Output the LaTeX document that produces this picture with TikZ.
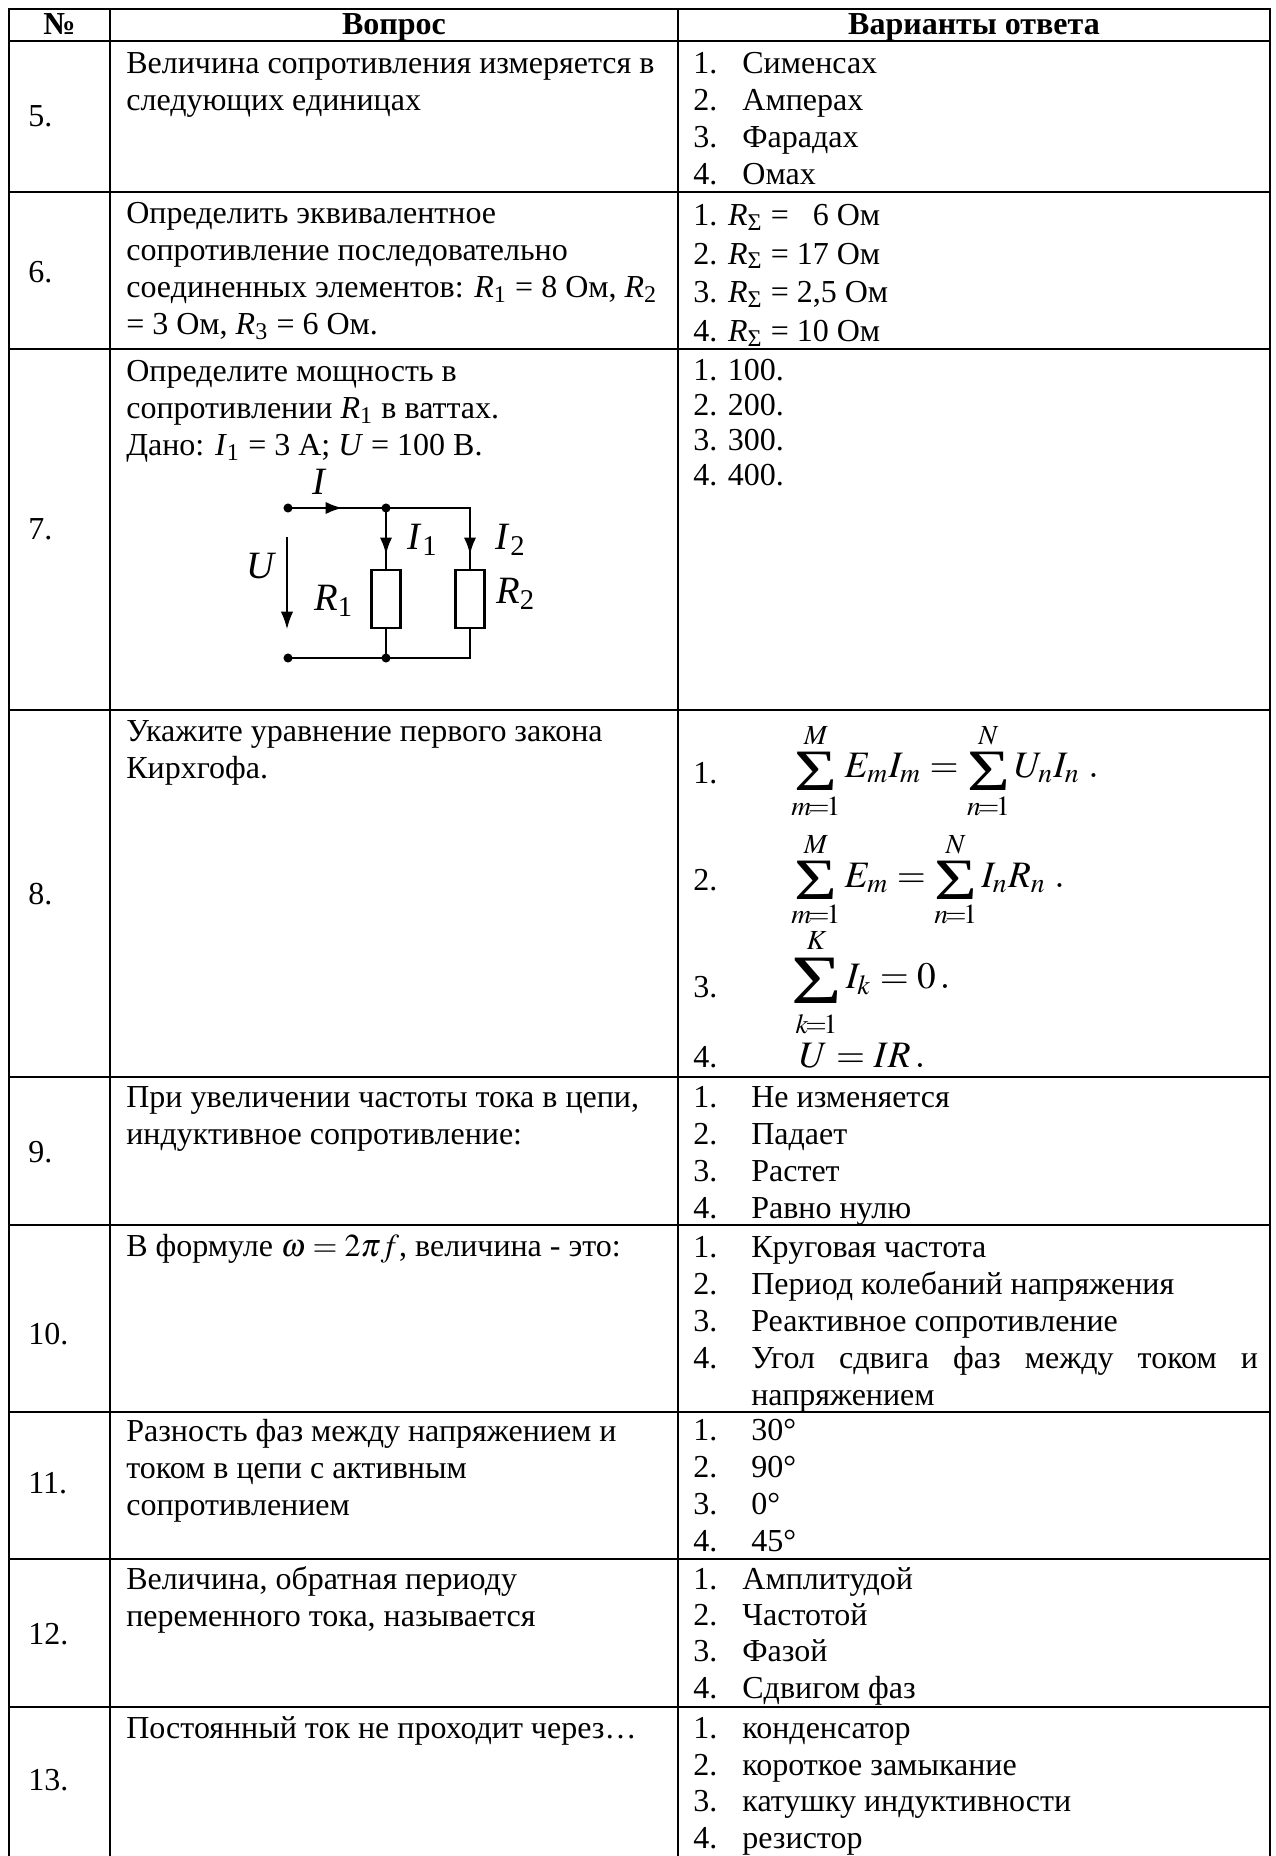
\documentclass[tikz,border=0pt]{standalone}
\usepackage{mathptmx}
\usepackage{graphicx}
\usepackage{fontspec}
\setmainfont{Liberation Serif}
\usetikzlibrary{arrows.meta}
\tikzset{>=Latex}

\newcommand{\tstrut}{\rule{0pt}{12pt}}
\newcommand{\ansbox}[3]{\makebox[#1][l]{#2}#3}
\newcommand{\Rsig}{\textit{R}\textsubscript{Σ}}
% sum sign: size, lowering, box height, box depth, lower and upper limit
\newcommand{\bigsum}[6]{\mathop{\raisebox{-#2}[#3][#4]{\fontsize{#1}{#1}\selectfont\scalebox{1.25}[1]{Σ}}}\limits_{#5}^{#6}}

\tikzset{
  cell/.style={anchor=north west, yshift=12pt, inner sep=0pt, align=left,
    font=\fontsize{12}{13.875}\selectfont},
  head/.style={anchor=base, inner sep=0pt, font=\fontsize{12}{13.875}\selectfont\bfseries},
  num/.style={anchor=base west, inner sep=0pt, font=\fontsize{12}{13.875}\selectfont},
  frm/.style={anchor=base west, inner sep=0pt, font=\fontsize{14}{18}\selectfont},
  wire/.style={line width=1.1pt},
  res/.style={draw, line width=1.1pt, minimum width=11.2pt, minimum height=21.75pt, inner sep=0pt},
  curr/.style={-{Latex[length=6.5pt,width=4.6pt]}, line width=1.1pt},
  lab/.style={inner sep=0pt, font=\fontsize{14.5}{16}\selectfont},
}

\begin{document}
\begin{tikzpicture}[x=0.375pt, y=-0.375pt, line width=1pt]
  \fill[white] (0,0) rectangle (1275,1856);
  \useasboundingbox (0,0) rectangle (1275,1856);

  % table grid
  \draw (9,1856) -- (9,9) -- (1270,9) -- (1270,1856);
  \foreach \y in {41,192,349,710,1077,1225,1412,1559,1707}
    \draw (9,\y) -- (1270,\y);
  \foreach \x in {110,678}
    \draw (\x,9) -- (\x,1856);

  % header
  \node[head] (hn) at (59.5,34) {№};
  \node[head] (hq) at (394,34) {Вопрос};
  \node[head] (ha) at (974,34) {Варианты ответа};

  % question numbers
  \foreach \n/\y in {5/126, 6/282, 7/539, 8/904, 9/1162, 10/1344, 11/1493, 12/1644, 13/1790}
    \node[num] (n\n) at (27,\y) {\n.};

  % 5
  \node[cell] (q5) at (125,72) {\tstrut Величина сопротивления измеряется в\\следующих единицах};
  \node[cell] (a5) at (692,72) {\tstrut\ansbox{18.4pt}{1.}{Сименсах}\\
    \ansbox{18.4pt}{2.}{Амперах}\\
    \ansbox{18.4pt}{3.}{Фарадах}\\
    \ansbox{18.4pt}{4.}{Омах}};

  % 6
  \node[cell] (q6) at (125,222) {\tstrut Определить эквивалентное\\
    сопротивление последовательно\\
    соединенных элементов: \textit{R}\textsubscript{1} = 8 Ом, \textit{R}\textsubscript{2}\\
    = 3 Ом, \textit{R}\textsubscript{3} = 6 Ом.};
  \node[cell, font=\fontsize{12}{14.5}\selectfont] (a6) at (692,224) {\tstrut 1. \Rsig{} = \phantom{1}6 Ом\\
    2. \Rsig{} = 17 Ом\\
    3. \Rsig{} = 2,5 Ом\\
    4. \Rsig{} = 10 Ом};

  % 7
  \node[cell] (q7) at (125,380) {\tstrut Определите мощность в\\
    сопротивлении \textit{R}\textsubscript{1} в ваттах.\\
    Дано: \textit{I}\textsubscript{1} = 3 А; \textit{U} = 100 В.};
  \node[cell, font=\fontsize{12}{13.2}\selectfont] (a7) at (692,379) {\tstrut 1. 100.\\2. 200.\\3. 300.\\4. 400.};

  % circuit of question 7
  \coordinate (tin) at (288,508);
  \coordinate (bin) at (288,658);
  \coordinate (jt) at (386,508);
  \coordinate (jb) at (386,658);
  \coordinate (ct) at (470,508);
  \coordinate (cb) at (470,658);
  \node[res] (r1) at (386,599) {};
  \node[res] (r2) at (470,599) {};
  \draw[wire] (tin) -- (ct) -- (r2.north);
  \draw[wire] (jt) -- (r1.north);
  \draw[wire] (r1.south) -- (jb);
  \draw[wire] (bin) -- (cb) -- (r2.south);
  \foreach \p in {tin,bin,jt,jb}
    \fill (\p) circle[radius=1.7pt];
  \coordinate (ia) at (300,508);
  \coordinate (ib) at (343,508);
  \draw[curr] (ia) -- (ib);
  \coordinate (i1a) at (386,520);
  \coordinate (i1b) at (386,555);
  \draw[curr] (i1a) -- (i1b);
  \coordinate (i2a) at (470,520);
  \coordinate (i2b) at (470,555);
  \draw[curr] (i2a) -- (i2b);
  \coordinate (ua) at (287,537);
  \coordinate (ub) at (287,629);
  \draw[-{Latex[length=6.5pt,width=4.6pt]}, line width=0.5pt] (ua) -- (ub);
  \node[lab] (li) at (320,482) {\textit{I}};
  \node[lab] (li1) at (423,540) {\textit{I}\textsubscript{1}};
  \node[lab] (li2) at (511,540) {\textit{I}\textsubscript{2}};
  \node[lab] (lu) at (262,566) {\textit{U}};
  \node[lab] (lr1) at (334,601) {\textit{R}\textsubscript{1}};
  \node[lab] (lr2) at (516,594) {\textit{R}\textsubscript{2}};

  % 8
  \node[cell] (q8) at (125,740) {\tstrut Укажите уравнение первого закона\\Кирхгофа.};
  \foreach \k/\y in {1/783, 2/890, 3/997, 4/1067}
    \node[num] (a8n\k) at (692,\y) {\k.};
  \node[frm] (f1) at (790,777) {$\thickmuskip=4mu\displaystyle\bigsum{22}{5.2pt}{13pt}{7pt}{m\!=\!1}{M} E_{m} I_{m} = \bigsum{22}{5.2pt}{13pt}{7pt}{n\!=\!1}{N} U_{n} I_{n}\;.$};
  \node[frm] (f2) at (790,887) {$\thickmuskip=4mu\displaystyle\bigsum{22}{4.5pt}{13.5pt}{6pt}{m\!=\!1}{M} E_{m} = \bigsum{22}{4.5pt}{13.5pt}{6pt}{n\!=\!1}{N} I_{n} R_{n}\;.$};
  \node[frm] (f3) at (790,988) {$\thickmuskip=4mu\displaystyle\bigsum{26}{5.8pt}{11.5pt}{7.4pt}{k\!=\!1}{K} I_{k} = 0\,.$};
  \node[frm] (f4) at (798,1067) {$U = IR\,.$};

  % 9
  \node[cell] (q9) at (125,1106) {\tstrut При увеличении частоты тока в цепи,\\индуктивное сопротивление:};
  \node[cell] (a9) at (692,1106) {\tstrut\ansbox{21.75pt}{1.}{Не изменяется}\\
    \ansbox{21.75pt}{2.}{Падает}\\
    \ansbox{21.75pt}{3.}{Растет}\\
    \ansbox{21.75pt}{4.}{Равно нулю}};

  % 10
  \node[cell] (q10) at (125,1255) {\tstrut В формуле $\omega = 2\pi f$, величина - это:};
  \node[cell] (a10) at (692,1256) {\tstrut\ansbox{21.75pt}{1.}{Круговая частота}\\
    \ansbox{21.75pt}{2.}{Период колебаний напряжения}\\
    \ansbox{21.75pt}{3.}{Реактивное сопротивление}\\
    \ansbox{21.75pt}{4.}{\makebox[190pt][s]{Угол сдвига фаз между током и}}\\
    \hspace*{21.75pt}напряжением};

  % 11
  \node[cell] (q11) at (125,1440) {\tstrut Разность фаз между напряжением и\\
    током в цепи с активным\\
    сопротивлением};
  \node[cell] (a11) at (692,1439) {\tstrut\ansbox{21.75pt}{1.}{30°}\\
    \ansbox{21.75pt}{2.}{90°}\\
    \ansbox{21.75pt}{3.}{0°}\\
    \ansbox{21.75pt}{4.}{45°}};

  % 12
  \node[cell] (q12) at (125,1588) {\tstrut Величина, обратная периоду\\переменного тока, называется};
  \node[cell, font=\fontsize{12}{13.6}\selectfont] (a12) at (692,1588) {\tstrut\ansbox{18.4pt}{1.}{Амплитудой}\\
    \ansbox{18.4pt}{2.}{Частотой}\\
    \ansbox{18.4pt}{3.}{Фазой}\\
    \ansbox{18.4pt}{4.}{Сдвигом фаз}};

  % 13
  \node[cell] (q13) at (125,1737) {\tstrut Постоянный ток не проходит через…};
  \node[cell, font=\fontsize{12}{13.75}\selectfont] (a13) at (692,1737) {\tstrut\ansbox{18.4pt}{1.}{конденсатор}\\
    \ansbox{18.4pt}{2.}{короткое замыкание}\\
    \ansbox{18.4pt}{3.}{катушку индуктивности}\\
    \ansbox{18.4pt}{4.}{резистор}};
\end{tikzpicture}
\end{document}
